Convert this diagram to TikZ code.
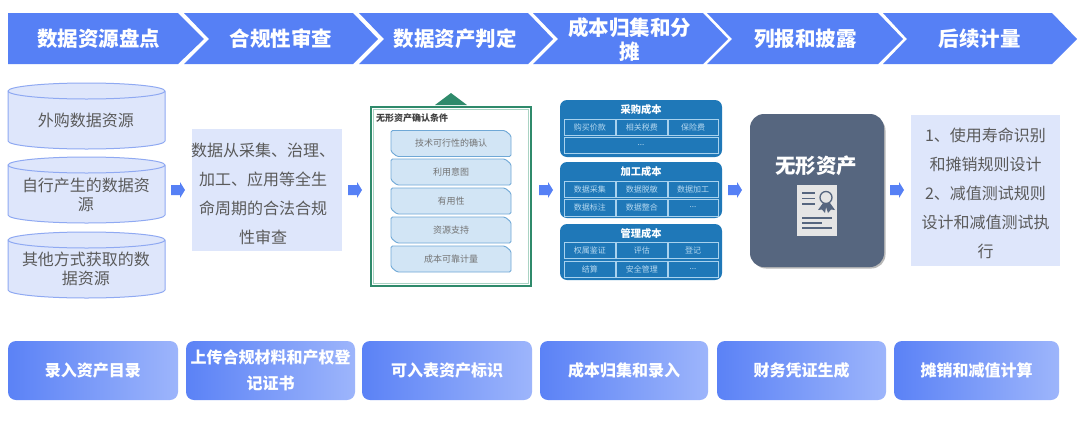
\documentclass[tikz,border=0pt]{standalone}
\usepackage{fontspec}
\setmainfont{Noto Sans CJK SC}
\definecolor{headblue}{HTML}{5680F5}
\definecolor{paleblue}{HTML}{DEE6FB}
\definecolor{drumline}{HTML}{8FA9F2}
\definecolor{inktext}{HTML}{5A5A5A}
\definecolor{framegreen}{HTML}{2F8A6B}
\definecolor{framepale}{HTML}{A9D3C3}
\definecolor{itemfill}{HTML}{D2E5F5}
\definecolor{itemline}{HTML}{6FA8D6}
\definecolor{costblue}{HTML}{1F78B8}
\definecolor{cellline}{HTML}{A8D2EE}
\definecolor{celltext}{HTML}{B5D8F0}
\definecolor{slateblue}{HTML}{56667F}
\definecolor{gradleft}{HTML}{5B82F6}
\definecolor{gradright}{HTML}{9DB5FB}
\tikzset{
  x=1pt,y=-1pt,
  headtext/.style={text=white,font=\fontsize{20.5}{24}\selectfont\bfseries,align=center,text width=126pt,inner sep=0pt},
  drumtext/.style={text=inktext,font=\fontsize{16}{19}\selectfont,align=center,text width=140pt,inner sep=0pt},
  notetext/.style={text=inktext,font=\fontsize{16}{29}\selectfont,align=center,inner sep=0pt},
  itemtext/.style={text=inktext!85,font=\fontsize{9}{10}\selectfont,inner sep=0pt},
  costcard/.style={fill=costblue,rounded corners=7pt,draw=none},
  costtitle/.style={text=white,font=\fontsize{10.25}{12}\selectfont\bfseries,inner sep=0pt},
  stagebox/.style={rounded corners=8pt,left color=gradleft,right color=gradright,draw=none,
    minimum height=59pt,text=white,font=\fontsize{16}{26}\selectfont\bfseries,align=center,inner sep=0pt},
}
\newcommand{\celldots}{...}
% database drum: #1 left, #2 right, #3 top, #4 bottom
\newcommand{\dbdrum}[4]{%
  \draw[drumline,line width=1pt,fill=paleblue] (#1,#3+8) -- (#1,#4-8)
    arc[start angle=180,end angle=0,x radius={(#2-#1)/2},y radius=8]
    -- (#2,#3+8)
    arc[start angle=0,end angle=-180,x radius={(#2-#1)/2},y radius=8]
    arc[start angle=180,end angle=0,x radius={(#2-#1)/2},y radius=8];
}
% block arrow pointing right, #1 is its left end
\newcommand{\flowarrow}[1]{%
  \fill[headblue] (#1,185) -- (#1+9,185) -- (#1+9,182) -- (#1+14,190) -- (#1+9,198) -- (#1+9,195) -- (#1,195) -- cycle;
}
\begin{document}
\begin{tikzpicture}
\useasboundingbox (0,0) rectangle (1080,421);
\fill[white] (0,0) rectangle (1080,421);

% process banner
\fill[headblue] (8,13) -- (178,13) -- (204,39) -- (178,64) -- (8,64) -- cycle;
\foreach \sx/\ex in {184/353,359/528,533/703,707/878}{
  \fill[headblue] (\sx,13) -- (\ex,13) -- (\ex+25,39) -- (\ex,64) -- (\sx,64) -- (\sx+25,39) -- cycle;
}
\fill[headblue] (883,13) -- (1052,13) -- (1077,39) -- (1052,64) -- (883,64) -- (907,39) -- cycle;
\node[headtext] (h1) at (99,38.5) {数据资源盘点};
\node[headtext] (h2) at (281,38.5) {合规性审查};
\node[headtext] (h3) at (455,38.5) {数据资产判定};
\node[headtext] (h4) at (629.5,39.5) {成本归集和分\\摊};
\node[headtext] (h5) at (805.5,38.5) {列报和披露};
\node[headtext] (h6) at (979.5,38.5) {后续计量};

% data sources
\dbdrum{8}{165}{83}{149}
\dbdrum{8}{165}{157}{223}
\dbdrum{8}{165}{232}{298}
\node[drumtext] (d1) at (86,120) {外购数据资源};
\node[drumtext] (d2) at (86,194.5) {自行产生的数据资\\源};
\node[drumtext] (d3) at (86,269) {其他方式获取的数\\据资源};

% compliance note
\fill[paleblue] (192,129) rectangle (342,251);
\node[notetext] (note) at (263,193.5)
  {数据从采集、治理、\\加工、应用等全生\\命周期的合法合规\\性审查};

% flow arrows
\foreach \ax in {171,348,539,728,890}{\flowarrow{\ax}}

% recognition conditions
\fill[framegreen] (435,105) -- (451,93) -- (467,105) -- cycle;
\draw[framegreen,line width=2pt] (371,107) rectangle (531,286);
\draw[framepale,line width=1.5pt] (373.5,109.5) rectangle (528.5,283.5);
\node[anchor=west,text=black!75,font=\fontsize{9}{10}\selectfont\bfseries,inner sep=0pt] (rtitle) at (376,118.5) {无形资产确认条件};
\foreach \ya/\yb/\lbl [count=\i] in {130.5/156.5/技术可行性的确认,159/185/利用意图,188/214/有用性,217/243/资源支持,246/272/成本可靠计量}{
  \draw[fill=itemfill,draw=itemline,line width=.9pt,rounded corners=1.5pt] (391,\ya) -- (505,\ya) -- (511,\ya+5) -- (511,\yb) -- (397,\yb) -- (391,\yb-5) -- cycle;
  \node[itemtext] (item\i) at (451,{(\ya+\yb)/2}) {\lbl};
}

% cost cards
\fill[costcard] (560,100) rectangle (722,157);
\fill[costcard] (560,162) rectangle (722,218);
\fill[costcard] (560,224) rectangle (722,280);
\node[costtitle] (c1) at (641,110) {采购成本};
\node[costtitle] (c2) at (641,172) {加工成本};
\node[costtitle] (c3) at (641,234) {管理成本};
\foreach \xa/\xb/\ya/\yb/\lbl [count=\i] in {
  564/615.5/119/135/购买价款,616.5/667/119/135/相关税费,668/718/119/135/保险费,
  564/718/137/153/\celldots,
  564/615.5/181/197/数据采集,616.5/667/181/197/数据脱敏,668/718/181/197/数据加工,
  564/615.5/199/216/数据标注,616.5/667/199/216/数据整合,668/718/199/216/\celldots,
  564/615.5/242/258/权属鉴证,616.5/667/242/258/评估,668/718/242/258/登记,
  564/615.5/261/277/结算,616.5/667/261/277/安全管理,668/718/261/277/\celldots}{
  \draw[cellline,line width=.7pt] (\xa,\ya) rectangle (\xb,\yb);
  \node[text=celltext,font=\fontsize{8}{10}\selectfont,inner sep=0pt] (cell\i) at ({(\xa+\xb)/2},{(\ya+\yb)/2}) {\lbl};
}

% intangible asset tile
\fill[black!28,rounded corners=14pt] (752,116.5) rectangle (885.5,268.5);
\fill[slateblue,rounded corners=14pt] (750,114) rectangle (884,267);
\node[text=white,font=\fontsize{20.5}{24}\selectfont\bfseries,inner sep=0pt] (asset) at (816,166) {无形资产};
\fill[white!90!black] (797,185) rectangle (837,236);
\foreach \ly in {193,198.5,204}{\draw[slateblue,line width=1.3pt] (802,\ly) -- (815,\ly);}
\foreach \ly/\lx in {218/832,223/822,228/832}{\draw[slateblue,line width=1.3pt] (802,\ly) -- (\lx,\ly);}
\fill[slateblue] (823,203) -- (818,210) -- (822,209.5) -- (825,213) -- (826,207) -- (828,213) -- (831,209.5) -- (835,210) -- (830,203) -- cycle;
\draw[slateblue,line width=1.3pt,fill=white!90!black] (826,197.5) circle[radius=6];

% subsequent measurement note
\fill[paleblue] (911,115) rectangle (1060,266);
\node[notetext] (after) at (985.5,193)
  {1、使用寿命识别\\和摊销规则设计\\2、减值测试规则\\设计和减值测试执\\行};

% system steps
\node[stagebox,minimum width=170pt] (s1) at (93,370.5) {录入资产目录};
\node[stagebox,minimum width=169pt] (s2) at (270.5,370.5) {上传合规材料和产权登\\记证书};
\node[stagebox,minimum width=170pt] (s3) at (447,370.5) {可入表资产标识};
\node[stagebox,minimum width=168pt] (s4) at (624,370.5) {成本归集和录入};
\node[stagebox,minimum width=169pt] (s5) at (801.5,370.5) {财务凭证生成};
\node[stagebox,minimum width=165pt] (s6) at (976.5,370.5) {摊销和减值计算};
\end{tikzpicture}
\end{document}
